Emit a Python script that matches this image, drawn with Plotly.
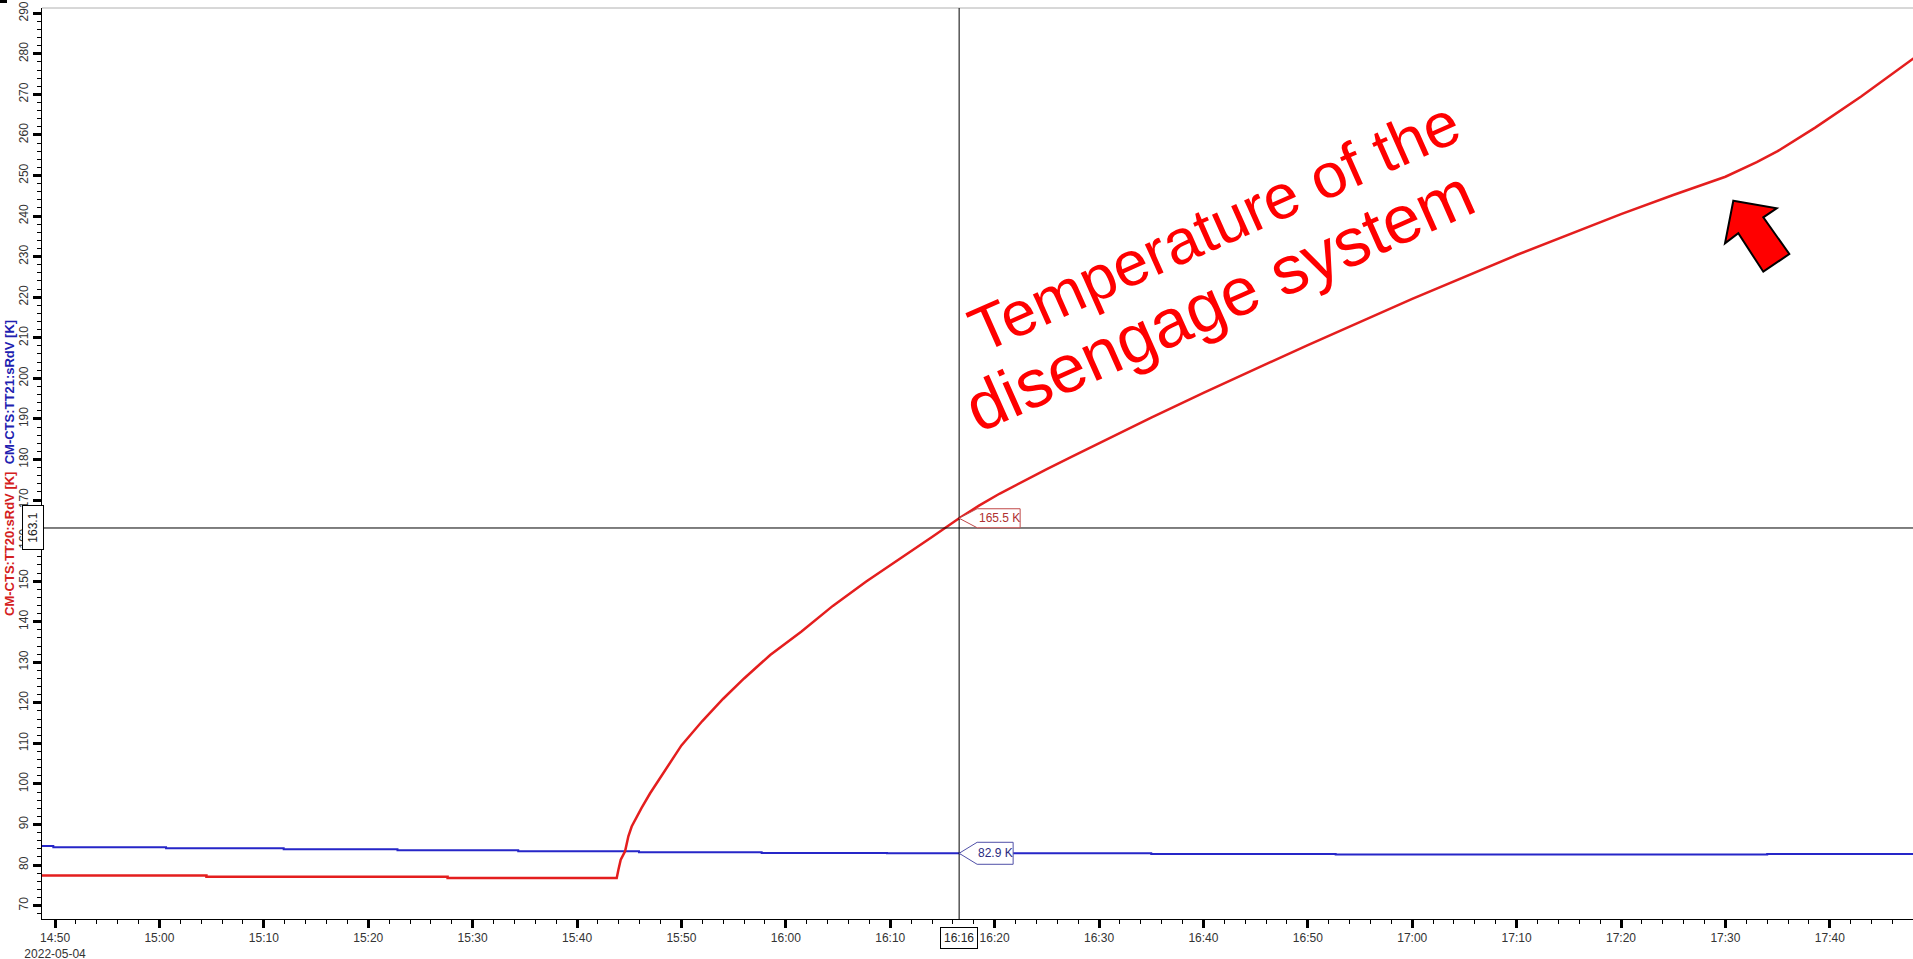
import plotly.graph_objects as go

DAY = "2022-05-04 "

# ---- data ----
blue_times = ["14:48:00", "14:49:50", "15:00:38", "15:11:54", "15:22:48", "15:34:22",
              "15:45:56", "15:57:41", "16:09:41", "16:35:00", "16:52:40", "17:34:00", "17:49:00"]
blue_values = [84.7, 84.4, 84.15, 83.9, 83.65, 83.4, 83.15, 83.0, 82.9, 82.75, 82.6, 82.7, 82.7]

red_times = ["14:48:00", "15:04:30", "15:04:30", "15:27:36", "15:27:36", "15:43:48",
             "15:43:58", "15:44:11", "15:44:36", "15:44:55", "15:45:14", "15:45:43",
             "15:46:11", "15:47:00", "15:48:30", "15:50:00",
             "15:52:00", "15:54:00", "15:56:00", "15:58:30", "16:01:30", "16:04:30",
             "16:07:42", "16:11:00", "16:14:00", "16:16:36", "16:18:30", "16:20:30",
             "16:23:00", "16:25:00", "16:27:30", "16:30:00", "16:35:00", "16:40:00",
             "16:50:00", "17:00:00", "17:10:00", "17:20:00", "17:25:00", "17:30:00",
             "17:33:00", "17:35:00", "17:38:36", "17:43:00", "17:48:30"]
red_values = [77.4, 77.4, 77.1, 77.1, 76.8, 76.8,
              78.9, 81.3, 83.4, 87.1, 89.5, 92.0,
              94.1, 97.7, 103.5, 109.5,
              115.5, 121.0, 126.0, 131.8, 137.6, 143.9,
              149.9, 155.6, 160.9, 165.5, 168.6, 171.6,
              175.0, 177.6, 180.8, 184.0, 190.3, 196.4,
              208.2, 219.6, 230.4, 240.5, 245.2, 249.7,
              253.3, 256.0, 261.8, 269.5, 279.8]

x_tick_labels = ["14:50", "15:00", "15:10", "15:20", "15:30", "15:40", "15:50", "16:00",
                 "16:10", "16:20", "16:30", "16:40", "16:50", "17:00", "17:10", "17:20",
                 "17:30", "17:40"]
date_label = "2022-05-04"
y_tick_values = [70, 80, 90, 100, 110, 120, 130, 140, 150, 160, 170, 180, 190, 200,
                 210, 220, 230, 240, 250, 260, 270, 280, 290]

cursor_time = "16:16:36"
cursor_label = "16:16"
cursor_y = 163.1
red_cursor_value = 165.5
blue_cursor_value = 82.9

red_name = "CM-CTS:TT20:sRdV [K]"
blue_name = "CM-CTS:TT21:sRdV [K]"
annotation_lines = ["Temperature of the", "disengage system"]

RED = "#e41e1e"
BLUE = "#2626c8"
FONT = "Liberation Sans, Arial, sans-serif"

# plot-area geometry (pixels) used to place decorations
W, H = 1913, 959
L, R, T, B = 42, 0, 8, 40
PW, PH = W - L - R, H - T - B


def paper(px, py):
    return (px - L) / PW, (H - B - py) / PH


fig = go.Figure()
fig.add_trace(go.Scatter(x=[DAY + t for t in blue_times], y=blue_values, mode="lines",
                         line=dict(color=BLUE, width=2, shape="hv"), name=blue_name))
fig.add_trace(go.Scatter(x=[DAY + t for t in red_times], y=red_values, mode="lines",
                         line=dict(color=RED, width=2.5), name=red_name))

tickvals = [DAY + t + ":00" for t in x_tick_labels]
ticktext = [x_tick_labels[0] + "<br>" + date_label] + x_tick_labels[1:]

fig.update_layout(
    width=W, height=H, margin=dict(l=L, r=R, t=T, b=B, autoexpand=False),
    paper_bgcolor="white", plot_bgcolor="white", showlegend=False,
    font=dict(family=FONT, size=12, color="#333"),
    xaxis=dict(type="date", range=[DAY + "14:48:45", DAY + "17:47:58"], automargin=False,
               tickmode="array", tickvals=tickvals, ticktext=ticktext,
               ticks="outside", ticklen=8, tickwidth=3, tickcolor="black",
               showline=True, linecolor="black", linewidth=1,
               showgrid=False, zeroline=False,
               tickfont=dict(family=FONT, size=12, color="#333"),
               minor=dict(tickmode="linear", tick0=DAY + "14:50:00", dtick=120000,
                          ticks="outside", ticklen=4, tickwidth=1, tickcolor="black")),
    yaxis=dict(range=[66.7, 291.3], automargin=False, tickmode="array", tickvals=y_tick_values,
               ticktext=[str(v) for v in y_tick_values], tickangle=-90,
               ticks="outside", ticklen=8, tickwidth=3, tickcolor="black",
               showline=True, linecolor="black", linewidth=1,
               showgrid=False, zeroline=False,
               tickfont=dict(family=FONT, size=12, color="#333"),
               minor=dict(tickmode="linear", tick0=70, dtick=2,
                          ticks="outside", ticklen=4, tickwidth=1, tickcolor="black")),
)

shapes = []
# top border
shapes.append(dict(type="line", xref="paper", yref="paper", x0=0, x1=1, y0=1, y1=1,
                   line=dict(color="#b0b0b0", width=1)))
# small dark mark in the top-left corner
c0 = paper(0, 0)
c1 = paper(7, 3)
shapes.append(dict(type="rect", xref="paper", yref="paper", x0=c0[0], x1=c1[0], y0=c0[1], y1=c1[1],
                   fillcolor="black", line=dict(width=0)))
# crosshair
shapes.append(dict(type="line", xref="x", yref="paper", x0=DAY + cursor_time, x1=DAY + cursor_time,
                   y0=0, y1=1, line=dict(color="black", width=1)))
shapes.append(dict(type="line", xref="paper", yref="y", x0=0, x1=1, y0=cursor_y, y1=cursor_y,
                   line=dict(color="black", width=1)))
# value flags
shapes.append(dict(type="path", xref="x", yref="y", xsizemode="pixel", ysizemode="pixel",
                   xanchor=DAY + cursor_time, yanchor=red_cursor_value,
                   path="M 0 0 L 18 9.5 L 61 9.5 L 61 -9.5 L 18 -9.5 Z",
                   fillcolor="white", line=dict(color="#c04848", width=1)))
shapes.append(dict(type="path", xref="x", yref="y", xsizemode="pixel", ysizemode="pixel",
                   xanchor=DAY + cursor_time, yanchor=blue_cursor_value,
                   path="M 0 0 L 18 11 L 54 11 L 54 -11 L 18 -11 Z",
                   fillcolor="white", line=dict(color="#5050a8", width=1)))
# block arrow
arrow_px = [(1733.3, 200.7), (1776.7, 208.3), (1763.3, 217.3), (1789.3, 254.0),
            (1763.3, 271.7), (1738.3, 233.3), (1725.0, 243.3)]
pts = [paper(x, y) for x, y in arrow_px]
path = "M " + " L ".join(f"{x:.5f} {y:.5f}" for x, y in pts) + " Z"
shapes.append(dict(type="path", xref="paper", yref="paper", path=path,
                   fillcolor="#ff0000", line=dict(color="black", width=2)))
fig.update_layout(shapes=shapes)

ann = []
ann.append(dict(xref="x", yref="y", x=DAY + cursor_time, y=red_cursor_value, xshift=40,
                xanchor="center", yanchor="middle",
                text=f"{red_cursor_value} K", showarrow=False,
                font=dict(family=FONT, size=12, color="#b03030")))
ann.append(dict(xref="x", yref="y", x=DAY + cursor_time, y=blue_cursor_value, xshift=36,
                xanchor="center", yanchor="middle",
                text=f"{blue_cursor_value} K", showarrow=False,
                font=dict(family=FONT, size=12, color="#2a2a80")))
ann.append(dict(xref="x", yref="paper", x=DAY + cursor_time, y=paper(0, 938)[1],
                xanchor="center", yanchor="middle",
                text=cursor_label, showarrow=False, bgcolor="white",
                bordercolor="black", borderwidth=1, borderpad=3,
                font=dict(family=FONT, size=12, color="#222")))
ann.append(dict(xref="paper", yref="y", x=paper(33, 0)[0], y=cursor_y,
                xanchor="center", yanchor="middle",
                text="&nbsp;" + str(cursor_y) + "&nbsp;", textangle=-90, showarrow=False,
                bgcolor="white", bordercolor="black", borderwidth=1, borderpad=3,
                font=dict(family=FONT, size=12, color="#222")))
tx, ty = paper(10, 468)
ann.append(dict(xref="paper", yref="paper", x=tx, y=ty, textangle=-90, showarrow=False,
                xanchor="center", yanchor="middle",
                text=f"<b><span style='color:#d42020'>{red_name}</span>  "
                     f"<span style='color:#2020b0'>{blue_name}</span></b>",
                font=dict(family=FONT, size=13)))
for line_text, (px, py), size in zip(annotation_lines, [(1214, 226), (1219, 300)], [63, 68]):
    lx, ly = paper(px, py)
    ann.append(dict(xref="paper", yref="paper", x=lx, y=ly, textangle=-24, showarrow=False,
                    xanchor="center", yanchor="middle",
                    text=line_text, font=dict(family=FONT, size=size, color="#ff0000")))
fig.update_layout(annotations=ann)

fig.write_html("out.html", config={"displayModeBar": False},
               post_script="document.body.style.margin='0';document.body.style.padding='0';"
                           "document.body.style.overflow='hidden';")
